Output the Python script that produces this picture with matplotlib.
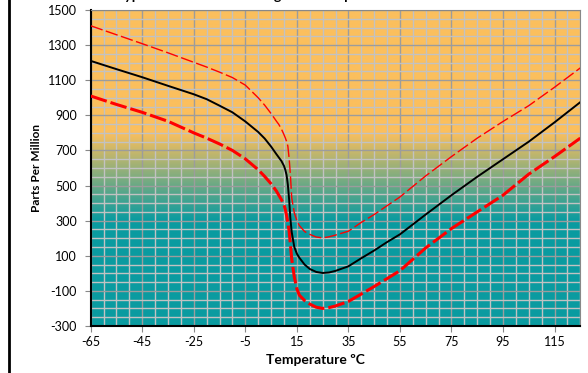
import numpy as np
import matplotlib
matplotlib.use("Agg")
import matplotlib.pyplot as plt
from matplotlib.colors import LinearSegmentedColormap
from matplotlib.lines import Line2D

plt.rcParams['font.family'] = ['Lato', 'DejaVu Sans']
plt.rcParams['axes.unicode_minus'] = False

# temperatures (degC) and curves (ppm)
temps = [-65, -55, -45, -35, -25, -20, -15, -10, -5, 0, 2.5, 5, 7, 8, 9, 10, 10.5,
         11, 11.5, 12, 12.5, 13, 14, 15, 16, 18, 20, 22.5, 25, 27.5, 30, 35, 40,
         45, 50, 55, 65, 75, 85, 95, 105, 115, 125]
typical = [1210, 1163, 1117, 1068, 1020, 992, 955, 917, 865, 805, 768, 722, 680,
           660, 640, 612, 590, 560, 505, 420, 310, 235, 150, 112, 88, 50, 25, 8, 2,
           5, 14, 40, 86, 130, 178, 222, 335, 445, 550, 650, 750, 860, 975]
upper = [1410, 1359, 1308, 1256, 1202, 1175, 1146, 1115, 1072, 1000, 958, 910, 868,
         848, 822, 790, 772, 752, 725, 655, 560, 430, 345, 300, 272, 238, 222, 207,
         202, 208, 218, 240, 290, 335, 385, 435, 555, 665, 770, 865, 955, 1060, 1170]
lower = [1010, 962, 917, 866, 800, 770, 737, 700, 652, 590, 552, 510, 470, 445,
         420, 390, 365, 330, 290, 240, 165, 82, -20, -88, -125, -155, -175, -193,
         -200, -195, -186, -160, -118, -75, -30, 15, 145, 255, 350, 445, 565, 665, 770]

xticks = list(range(-65, 116, 20))
yticks = list(range(-300, 1501, 200))

fig = plt.figure(figsize=(5.88, 3.73), dpi=100)
ax = fig.add_axes([0.1543, 0.126, 0.8326, 0.8472])

# background gradient: orange at top, teal at the bottom
cmap = LinearSegmentedColormap.from_list('bg', ['#0A9BA0', '#FBBF5D'])
yy = np.linspace(-300, 1500, 400)
shade = np.clip((yy - 300) / 500.0, 0, 1)
ax.imshow(shade[:, None], extent=[-65, 125, -300, 1500], origin='lower',
          aspect='auto', cmap=cmap, vmin=0, vmax=1, zorder=0, interpolation='bilinear')

# grid
for x in range(-65, 126, 5):
    major = (x + 65) % 20 == 0
    ax.axvline(x, color='#9c9c9c' if major else '#c2c2c2', lw=1.0, zorder=1)
for y in range(-300, 1501, 50):
    major = (y + 300) % 200 == 0
    ax.axhline(y, color='#9c9c9c' if major else '#c2c2c2', lw=1.0, zorder=1)

ax.plot(temps, upper, color='#FF0000', lw=1.0, dashes=(9, 2.5), zorder=3)
ax.plot(temps, lower, color='#FF0000', lw=2.2, dashes=(5.5, 1.3), zorder=3)
ax.plot(temps, typical, color='black', lw=1.4, zorder=4)

ax.set_xlim(-65, 125)
ax.set_ylim(-300, 1500)
ax.set_xticks(xticks)
ax.set_yticks(yticks)
ax.tick_params(axis='both', labelsize=9, color='#888888', length=4, width=0.8)
ax.tick_params(axis='y', pad=6)
ax.tick_params(axis='x', pad=3)

ax.spines['left'].set_color('black')
ax.spines['left'].set_linewidth(1.5)
ax.spines['bottom'].set_color('black')
ax.spines['bottom'].set_linewidth(1.5)
ax.spines['top'].set_color('#888888')
ax.spines['right'].set_color('#888888')

ax.set_xlabel('Temperature \u00baC', fontsize=10, fontweight='bold')
ax.xaxis.set_label_coords(0.46, -0.088)
ax.set_ylabel('Parts Per Million', fontsize=8.5, fontweight='bold')
ax.yaxis.set_label_coords(-0.1, 0.5)

# title mostly clipped at the top edge of the image, as in the original
fig.text(116 / 588, 1.0, 'Typical 32.768 kHz Tuning Fork Temperature Curve',
         fontsize=10, fontweight='bold', va='baseline', ha='left')

# black border on the left side of the chart area
fig.add_artist(Line2D([8.7 / 588, 8.7 / 588], [0, 1], color='black', lw=2.0,
                      transform=fig.transFigure))

fig.savefig('out.png', dpi=100)
